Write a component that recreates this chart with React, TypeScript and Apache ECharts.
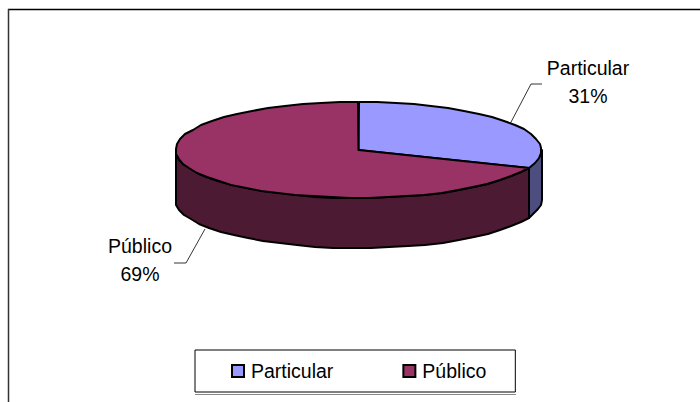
import React, { useEffect, useRef } from "react";
import * as echarts from "echarts";

const categories = ["Particular", "Público"];
const shares = [31, 69];
const topColors = ["#9999FF", "#993366"];
const sideColors = ["#4D4D80", "#4D1A33"];
const FONT = '"Liberation Sans", Arial, sans-serif';

const CX = 358.5;
const CY = 150;
const RX = 183;
const RY = 48;
const DEPTH = 50;
const STEP = 6;

const labelLayouts = [
  { x: 588, y: 82, line: [[510, 124], [531, 84], [542, 84]] },
  { x: 140, y: 260, line: [[205, 229], [186, 263], [174, 263]] },
];

const pt = (deg: number, dy = 0) => {
  const r = (deg * Math.PI) / 180;
  return [
    Math.round(CX + RX * Math.sin(r)),
    Math.round(CY - RY * Math.cos(r) + dy),
  ];
};

const arc = (a: number, b: number, dy = 0) => {
  const out: number[][] = [];
  const n = Math.max(1, Math.ceil((b - a) / STEP));
  for (let i = 0; i <= n; i++) out.push(pt(a + ((b - a) * i) / n, dy));
  return out;
};

const total = shares.reduce((s, v) => s + v, 0);

function makeSeries(idx: number) {
  const before = shares.slice(0, idx).reduce((s, v) => s + v, 0);
  return {
    type: "custom",
    name: categories[idx],
    coordinateSystem: "none",
    silent: true,
    z: 2,
    itemStyle: { color: topColors[idx] },
    data: [shares[idx]],
    renderItem: (_p: any, api: any) => {
      const v = api.value(0) as number;
      const a = (before / total) * 360;
      const b = a + (v / total) * 360;
      const children: any[] = [];
      const sa = Math.max(a, 90);
      const sb = Math.min(b, 270);
      if (sb > sa) {
        children.push({
          type: "polygon",
          shape: { points: [...arc(sa, sb), ...arc(sa, sb, DEPTH).reverse()] },
          style: { fill: sideColors[idx], stroke: "#000", lineWidth: 2, lineJoin: "round" },
        });
      }
      children.push({
        type: "polygon",
        shape: { points: [[CX, CY], ...arc(a, b)] },
        style: { fill: topColors[idx], stroke: "#000", lineWidth: 2, lineJoin: "round" },
      });
      const lay = labelLayouts[idx];
      children.push({
        type: "polyline",
        shape: { points: lay.line },
        style: { fill: "none", stroke: "#000", lineWidth: 0.8 },
      });
      children.push({
        type: "text",
        style: {
          x: lay.x,
          y: lay.y,
          text: `${categories[idx]}\n${Math.round((v / total) * 100)}%`,
          fill: "#000",
          font: `19.5px ${FONT}`,
          lineHeight: 28,
          align: "center",
          verticalAlign: "middle",
        },
      });
      return { type: "group", children };
    },
  };
}

export default function App() {
  const ref = useRef<HTMLDivElement>(null);
  useEffect(() => {
    const chart = echarts.init(ref.current!, undefined, { renderer: "svg" });
    chart.setOption({
      animation: false,
      backgroundColor: "#fff",
      legend: {
        left: 195,
        top: 350,
        orient: "horizontal",
        selectedMode: false,
        padding: [11, 29, 11, 36],
        itemGap: 69,
        itemWidth: 12,
        itemHeight: 12,
        backgroundColor: "#fff",
        borderColor: "#000",
        borderWidth: 1,
        data: categories.map((name, i) => ({
          name,
          icon: "rect",
          itemStyle: { color: topColors[i], borderColor: "#000", borderWidth: 2 },
        })),
        textStyle: { fontFamily: FONT, fontSize: 19.5, color: "#000", padding: [0, 0, 0, 2] },
      },
      graphic: [
        { type: "line", silent: true, shape: { x1: 8, y1: 9.5, x2: 700, y2: 9.5 }, style: { stroke: "#000", lineWidth: 1.5 } },
        { type: "line", silent: true, shape: { x1: 8.5, y1: 9, x2: 8.5, y2: 402 }, style: { stroke: "#333", lineWidth: 1.5 } },
        { type: "line", silent: true, z: 10, shape: { x1: 195, y1: 394.5, x2: 516, y2: 394.5 }, style: { stroke: "#888", lineWidth: 1 } },
      ],
      series: categories.map((_, i) => makeSeries(i)),
    });
    return () => chart.dispose();
  }, []);
  return <div ref={ref} style={{ position: "absolute", left: 0, top: 0, width: 700, height: 402 }} />;
}
